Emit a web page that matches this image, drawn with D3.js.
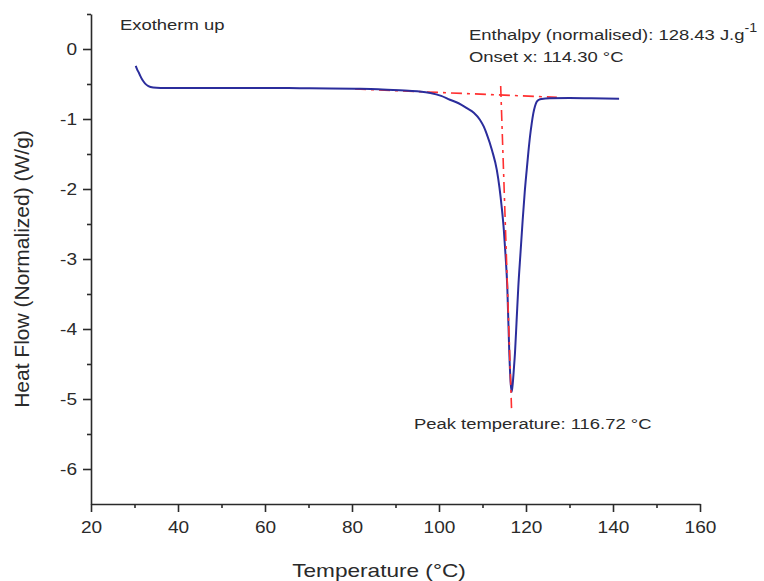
<!DOCTYPE html>
<html>
<head>
<meta charset="utf-8">
<script src="https://cdn.jsdelivr.net/npm/d3@7"></script>
<style>
  html, body { margin: 0; padding: 0; background: #fff; }
  svg { display: block; font-family: 'Liberation Sans', Arial, sans-serif; }
</style>
</head>
<body>
<div id="chart"></div>
<script>
// DSC trace
const temperature = [
  30.28, 30.6, 31.0, 31.3, 31.8, 32.4, 33.2, 34.3, 36, 40, 50, 60, 68, 75, 80.7, 86, 91, 95, 98,
  100.5, 102.5, 104.5, 106.4, 108, 109.4, 110.3, 111.0, 112.2, 113.3, 113.9, 114.4, 114.9, 115.3,
  115.7, 116.16, 116.45, 116.71, 116.95, 117.2, 117.47, 117.85, 118.23, 118.75, 119.24, 119.7,
  120.16, 120.55, 120.92, 121.3, 121.68, 122.05, 122.46, 123.0, 123.6, 125.5, 130, 135, 141.4
]
const heatFlow = [
  -0.24, -0.29, -0.34, -0.38, -0.44, -0.49, -0.53, -0.55, -0.556, -0.558, -0.558, -0.557, -0.56,
  -0.563, -0.568, -0.575, -0.59, -0.605, -0.628, -0.67, -0.725, -0.775, -0.845, -0.91, -1.01, -1.11,
  -1.22, -1.45, -1.73, -1.98, -2.25, -2.58, -2.95, -3.4, -4.34, -4.75, -4.9, -4.78, -4.58, -4.34,
  -3.87, -3.4, -2.9, -2.44, -2.05, -1.73, -1.47, -1.25, -1.07, -0.92, -0.82, -0.755, -0.725,
  -0.714, -0.704, -0.7, -0.705, -0.712
]

// construction lines (baseline and onset tangent)
const baselineT = [80.7, 127.1]
const baselineHF = [-0.571, -0.69]
const onsetT = [114.18, 116.67]
const onsetHF = [-0.529, -5.13]

const xTicks = [20, 40, 60, 80, 100, 120, 140, 160]
const xMinor = [30, 50, 70, 90, 110, 130, 150]
const yTicks = [0, -1, -2, -3, -4, -5, -6]
const yMinor = [0.5, -0.5, -1.5, -2.5, -3.5, -4.5, -5.5]

const W = 764, H = 581
const SX = 1.19 // the picture is a bit wider than tall
const INK = '#2a2a2a'

const svg = d3.select('#chart')
  .append('svg')
  .attr('width', W)
  .attr('height', H)

const x = d3.scaleLinear().domain([20, 160]).range([91, 700])
const y = d3.scaleLinear().domain([-6.5, 0.5]).range([504, 14])

function stretchText(g) {
  g.selectAll('text')
    .attr('fill', INK)
    .attr('transform', `scale(${SX},1)`)
    .attr('x', function() { return +this.getAttribute('x') / SX })
}

// minor ticks
svg.append('g')
  .attr('transform', `translate(0,${y(-6.5)})`)
  .call(d3.axisBottom(x).tickValues(xMinor).tickSize(4).tickFormat(''))
  .call(g => g.select('.domain').remove())
svg.append('g')
  .attr('transform', `translate(${x(20)},0)`)
  .call(d3.axisLeft(y).tickValues(yMinor).tickSize(4).tickFormat(''))
  .call(g => g.select('.domain').remove())

const xAxis = svg.append('g')
  .attr('transform', `translate(0,${y(-6.5)})`)
  .call(d3.axisBottom(x).tickValues(xTicks).tickSize(8).tickPadding(10).tickSizeOuter(0)
    .tickFormat(d => String(d)))
  .attr('font-size', 16)
  .attr('font-family', null)
stretchText(xAxis)

const yAxis = svg.append('g')
  .attr('transform', `translate(${x(20)},0)`)
  .call(d3.axisLeft(y).tickValues(yTicks).tickSize(8).tickPadding(6).tickSizeOuter(0)
    .tickFormat(d => String(d)))
  .attr('font-size', 16)
  .attr('font-family', null)
stretchText(yAxis)

svg.selectAll('.domain, .tick line')
  .attr('stroke', INK)
  .attr('stroke-width', 1.6)

// baseline + onset construction
const seg = d3.line().x(d => x(d[0])).y(d => y(d[1]))
svg.append('path')
  .datum(d3.zip(baselineT, baselineHF))
  .attr('d', seg)
  .attr('fill', 'none')
  .attr('stroke', '#ff3030')
  .attr('stroke-width', 1.6)
  .attr('stroke-dasharray', '11,5,3,5')

// heat flow curve
const line = d3.line()
  .x(d => x(d[0]))
  .y(d => y(d[1]))
  .curve(d3.curveMonotoneX)
svg.append('path')
  .datum(d3.zip(temperature, heatFlow))
  .attr('d', line)
  .attr('fill', 'none')
  .attr('stroke', '#2b2d9c')
  .attr('stroke-width', 2)

svg.append('path')
  .datum(d3.zip(onsetT, onsetHF))
  .attr('d', seg)
  .attr('fill', 'none')
  .attr('stroke', '#ff3030')
  .attr('stroke-width', 1.6)
  .attr('stroke-dasharray', '11,5,3,5')

// annotations
function note(px, py, txt, size) {
  return svg.append('text')
    .attr('transform', `translate(${px},${py}) scale(${SX},1)`)
    .attr('font-size', size)
    .attr('fill', INK)
    .text(txt)
}
note(120, 29.5, 'Exotherm up', 15.5)
const enth = note(469, 39.5, 'Enthalpy (normalised): 128.43 J.g', 15.5)
enth.append('tspan')
  .attr('dy', -8)
  .attr('font-size', 12)
  .text('-1')
note(469, 62, 'Onset x: 114.30 °C', 15.5)
note(414, 428.5, 'Peak temperature: 116.72 °C', 15.5)

// axis titles
svg.append('text')
  .attr('transform', `translate(379,577) scale(${SX},1)`)
  .attr('text-anchor', 'middle')
  .attr('font-size', 19)
  .attr('fill', INK)
  .text('Temperature (°C)')

svg.append('text')
  .attr('transform', 'translate(29,269) rotate(-90)')
  .attr('text-anchor', 'middle')
  .attr('font-size', 21)
  .attr('fill', INK)
  .text('Heat Flow (Normalized) (W/g)')
</script>
</body>
</html>
